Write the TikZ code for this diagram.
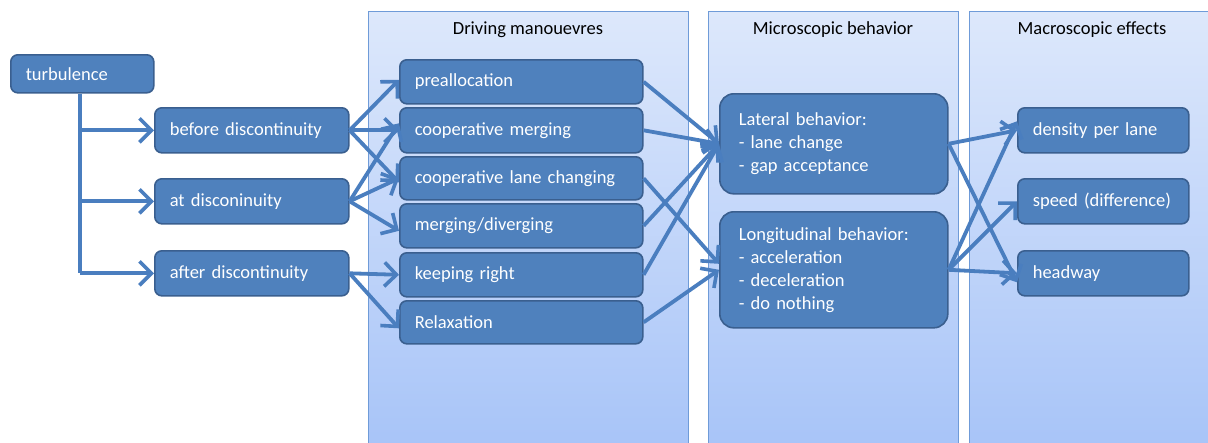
\documentclass[tikz,border=0pt]{standalone}
\usepackage{fontspec}
\setmainfont{Carlito}
\usetikzlibrary{arrows.meta}
\definecolor{boxfill}{HTML}{4F81BD}
\definecolor{boxline}{HTML}{3A5F8F}
\definecolor{arrowc}{HTML}{4A7EBF}
\definecolor{paneltop}{HTML}{DDE8FB}
\definecolor{panelbot}{HTML}{A6C3F8}
\definecolor{panelline}{HTML}{6F9BD8}
\tikzset{
  box/.style={draw=boxline, line width=1.6pt, fill=boxfill, rounded corners=7pt,
    text=white, anchor=north west, align=left, inner xsep=15pt, inner ysep=0pt,
    font=\fontsize{18.5}{23}\selectfont},
  bigbox/.style={box, rounded corners=14pt, inner xsep=19pt},
  conn/.style={draw=arrowc, line width=3.8pt, -{Straight Barb[length=12pt,width=24pt,line width=3.6pt]}},
  stem/.style={draw=arrowc, line width=3.8pt},
  panel/.style={draw=panelline, line width=1pt, top color=paneltop, bottom color=panelbot},
  title/.style={font=\fontsize{18.5}{21}\selectfont, text=black}
}
\begin{document}
\begin{tikzpicture}[x=1pt,y=-1pt]
\clip (0,0) rectangle (1208,442);
% panels
\path[panel] (368,11) rectangle (688,460);
\path[panel] (708,11) rectangle (958,460);
\path[panel] (969,11) rectangle (1230,460);
\node[title] (t1) at (528,30) {Driving manouevres};
\node[title] (t2) at (833,30) {Microscopic behavior};
\node[title] (t3) at (1092,30) {Macroscopic effects};
% left boxes
\node[box, minimum width=143pt, minimum height=38pt, text width=113pt] (turb) at (10,54) {turbulence};
\node[box, minimum width=194pt, minimum height=45pt, text width=164pt] (bef) at (154,107) {before discontinuity};
\node[box, minimum width=194pt, minimum height=45pt, text width=164pt] (at) at (154,178) {at disconinuity};
\node[box, minimum width=194pt, minimum height=45pt, text width=164pt] (aft) at (154,250) {after discontinuity};
% driving boxes
\node[box, minimum width=243pt, minimum height=44pt, text width=213pt] (pre) at (399,59) {preallocation};
\node[box, minimum width=243pt, minimum height=45pt, text width=213pt] (cm) at (399,107) {cooperative merging};
\node[box, minimum width=243pt, minimum height=43pt, text width=213pt] (clc) at (399,156) {cooperative lane changing};
\node[box, minimum width=243pt, minimum height=44pt, text width=213pt] (md) at (399,203) {merging/diverging};
\node[box, minimum width=243pt, minimum height=44pt, text width=213pt] (kr) at (399,252) {keeping right};
\node[box, minimum width=243pt, minimum height=43pt, text width=213pt] (rel) at (399,300) {Relaxation};
% micro boxes
\node[bigbox, minimum width=228pt, minimum height=100pt, text width=190pt] (lat) at (719,93) {Lateral behavior:\\- lane change\\- gap acceptance};
\node[bigbox, minimum width=228pt, minimum height=116pt, text width=190pt] (lon) at (719,211) {Longitudinal behavior:\\- acceleration\\- deceleration\\- do nothing};
% macro boxes
\node[box, minimum width=171pt, minimum height=45pt, text width=141pt] (dens) at (1017,107) {density per lane};
\node[box, minimum width=171pt, minimum height=45pt, text width=141pt] (spd) at (1017,178) {speed (difference)};
\node[box, minimum width=171pt, minimum height=45pt, text width=141pt] (head) at (1017,250) {headway};
% tree from turbulence
\coordinate (s0) at (turb.south -| 80,0);
\coordinate (s1) at (80,0 |- bef.west);
\coordinate (s2) at (80,0 |- at.west);
\coordinate (s3) at (80,0 |- aft.west);
\draw[stem] (s0) -- (s3);
\draw[conn] (s1) -- (bef.west);
\draw[conn] (s2) -- (at.west);
\draw[conn] (s3) -- (aft.west);
% to driving manoeuvres
\draw[conn] (bef.east) -- ([yshift=2pt]pre.west);
\draw[conn] (bef.east) -- (cm.west);
\draw[conn] (bef.east) -- ([yshift=-4pt]clc.west);
\draw[conn] (at.east) -- ([yshift=7pt]cm.west);
\draw[conn] (at.east) -- (clc.west);
\draw[conn] (at.east) -- ([yshift=-5pt]md.west);
\draw[conn] (aft.east) -- (kr.west);
\draw[conn] (aft.east) -- ([yshift=-6pt]rel.west);
% to microscopic
\draw[conn] (pre.east) -- (lat.west);
\draw[conn] (cm.east) -- (lat.west);
\draw[conn] (md.east) -- (lat.west);
\draw[conn] (kr.east) -- (lat.west);
\draw[conn] (clc.east) -- ([yshift=6pt]lon.west);
\draw[conn] (rel.east) -- (lon.west);
% to macroscopic
\draw[conn] (lat.east) -- (dens.west);
\draw[conn] (lat.east) -- ([yshift=-9pt]head.west);
\draw[conn] (lon.east) -- ([yshift=9pt]dens.west);
\draw[conn] (lon.east) -- (spd.west);
\draw[conn] (lon.east) -- (head.west);
\end{tikzpicture}
\end{document}
